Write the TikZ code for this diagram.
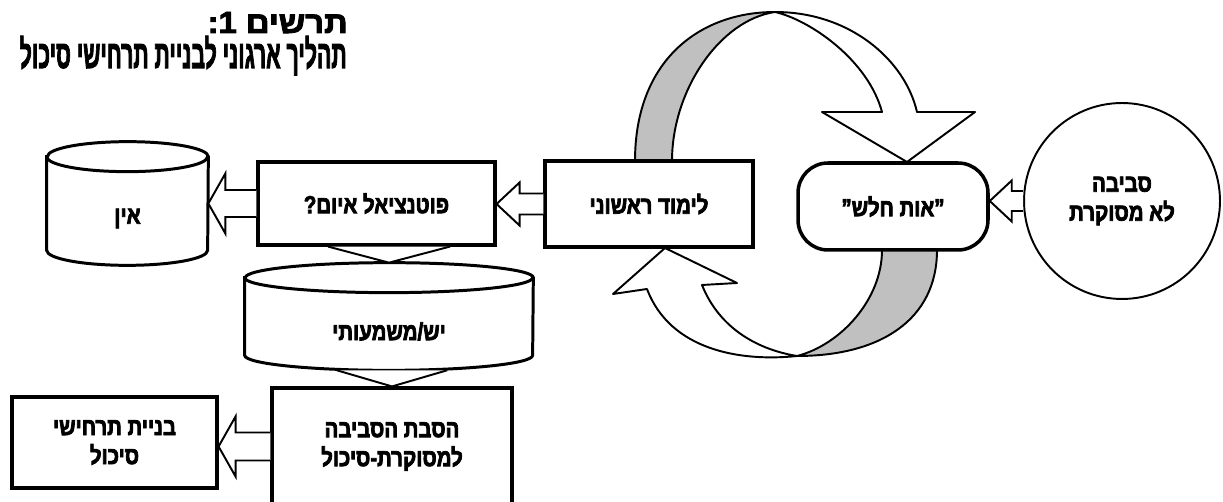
\documentclass[tikz,border=0pt]{standalone}
\usepackage{graphicx}
\usepackage{fontspec}
\newfontfamily\heb[Script=Hebrew, UprightFont={* Bold}, FakeStretch=0.83, FakeBold=3]{Liberation Sans}
\newfontfamily\hebtitle[Script=Hebrew, UprightFont={* Bold}, FakeBold=3]{Liberation Sans}
\TeXXeTstate=1
\usetikzlibrary{calc}
\definecolor{ribbon}{RGB}{192,192,192}

\newcommand\harrow[5]{%
  \draw[blockarrow] ($(#1)+(0,#3)$) -- ($(#2)+(#5,#3)$) -- ($(#2)+(#5,#4)$) -- (#2)
    -- ($(#2)+(#5,-#4)$) -- ($(#2)+(#5,-#3)$) -- ($(#1)+(0,-#3)$);}
\newcommand\vtri[3]{%
  \draw[blockarrow] ($(#1)+(-#3,0)$) -- (#2) -- ($(#1)+(#3,0)$);}
\newcommand\drawcyl[3]{%
  \draw[cylline] ([yshift=#3]#1.north west) -- ([yshift=#3]#1.south west)
    arc[start angle=180, end angle=360, x radius=#2, y radius=#3]
    -- ([yshift=#3]#1.north east)
    arc[start angle=0, end angle=180, x radius=#2, y radius=#3] -- cycle;
  \draw[cylline] ([yshift=#3]#1.north west)
    arc[start angle=180, end angle=360, x radius=#2, y radius=#3];}

\begin{document}
\begin{tikzpicture}[x=0.02cm, y=-0.02cm,
  txt/.style={font=\heb\fontsize{14}{16.5}\selectfont, align=center, inner sep=0pt},
  box/.style={txt, draw, line width=1.8pt, fill=white},
  titleline/.style={font=\hebtitle\fontsize{18}{20}\selectfont, anchor=base east, inner sep=0pt},
  cylline/.style={line width=1.7pt},
  blockarrow/.style={draw, line width=1.1pt, fill=white, line join=miter},
  band/.style={draw, line width=1.1pt, line join=round}]
\useasboundingbox (0,0) rectangle (1223,502);
\clip (0,0) rectangle (1223,502);

% title
\node[titleline] (title1) at (348,33) {\resizebox{2.8cm}{0.42cm}{\beginR תרשים 1:\endR}};
\node[titleline] (title2) at (347,68) {\resizebox{6.54cm}{0.64cm}{\beginR תהליך ארגוני לבניית תרחישי סיכול\endR}};

% the loop
\draw[band, fill=ribbon] (635,161) .. controls (635,60) and (700,12) .. (775,12)
  .. controls (720,20) and (672,90) .. (672,161) -- cycle;
\draw[band, fill=white] (775,12) .. controls (850,12) and (905,60) .. (917,112)
  -- (975,112) -- (907,162) -- (822,112) -- (882,112)
  .. controls (868,60) and (810,20) .. (775,12) -- cycle;
\draw[band, fill=ribbon] (937,250) .. controls (937,320) and (880,356) .. (797,356)
  .. controls (840,345) and (882,300) .. (882,250) -- cycle;
\draw[band, fill=white] (797,356) .. controls (740,362) and (670,350) .. (647,289)
  -- (613,294) -- (665,248) -- (737,283) -- (702,285)
  .. controls (720,330) and (760,350) .. (797,356) -- cycle;

% nodes
\node[txt, minimum width=3.22cm, minimum height=1.86cm] (ain) at (127.5,218.5) {\beginR אין\endR};
\drawcyl{ain}{1.61cm}{0.3cm}
\node[box, minimum width=4.74cm, minimum height=1.66cm] (pot) at (376.5,203.5) {\beginR פוטנציאל איום?\endR};
\node[box, minimum width=4.16cm, minimum height=1.72cm] (learn) at (649,204) {\beginR לימוד ראשוני\endR};
\node[box, rounded corners=0.6cm, line width=2pt, minimum width=3.8cm, minimum height=1.74cm]
  (weak) at (893,206.5) {\beginR ”אות חלש”\endR};
\node[txt, circle, draw, line width=1.1pt, minimum size=3.92cm] (env) at (1122,201)
  {\beginR סביבה\endR\\\beginR לא מסוקרת\endR};
\node[txt, minimum width=5.76cm, minimum height=1.54cm] (yes) at (389,331.5) {\beginR יש/משמעותי\endR};
\drawcyl{yes}{2.88cm}{0.3cm}
\node[box, minimum width=4.8cm, minimum height=2.34cm] (divert) at (392,446.5)
  {\beginR הסבת הסביבה\endR\\\beginR למסוקרת-סיכול\endR};
\node[box, minimum width=4.1cm, minimum height=1.82cm] (build) at (114.5,442.5)
  {\beginR בניית תרחישי\endR\\\beginR סיכול\endR};

% connectors
\coordinate (t1) at (ain.east |- pot.west);
\harrow{pot.west}{t1}{13.5}{30}{17}
\coordinate (t2) at (pot.east |- learn.west);
\harrow{learn.west}{t2}{10.5}{21.5}{23}
\coordinate (t3) at (weak.east |- env.west);
\harrow{env.west}{t3}{10}{20.5}{22}
\coordinate (t4) at (build.east |- divert.west);
\harrow{divert.west}{t4}{14}{30}{17}
\coordinate (a1) at ([yshift=0.6cm]yes.north);
\coordinate (b1) at (a1 |- pot.south);
\vtri{b1}{a1}{61}
\coordinate (b2) at (divert.north |- yes.south);
\vtri{b2}{divert.north}{55}
\end{tikzpicture}
\end{document}
